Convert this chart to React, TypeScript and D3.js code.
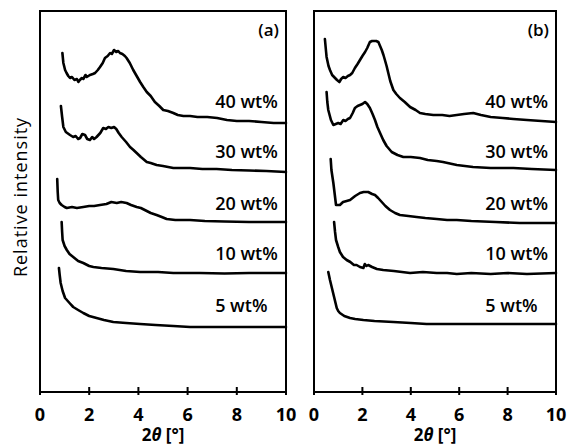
import React from "react";
import * as d3 from "d3";

// x: 2θ [°], y: relative intensity (arbitrary units, curves stacked)
const xTicks = [0, 2, 4, 6, 8, 10];
const seriesLabels = ["40 wt%", "30 wt%", "20 wt%", "10 wt%", "5 wt%"];
const panelNames = ["(a)", "(b)"];

// Panel (a)
const a40x = [0.91, 0.95, 1.02, 1.08, 1.15, 1.22, 1.3, 1.4, 1.5, 1.56, 1.62, 1.7, 1.76, 1.85, 1.9, 2.03, 2.15, 2.24, 2.35, 2.44, 2.55, 2.64, 2.75, 2.85, 2.92, 3.01, 3.1, 3.18, 3.25, 3.35, 3.45, 3.52, 3.65, 3.79, 3.93, 4.07, 4.2, 4.34, 4.5, 4.67, 4.85, 5.01, 5.2, 5.42, 5.6, 5.83, 6.1, 6.4, 6.8, 7.2, 7.6, 8.0, 8.5, 9.0, 9.5, 10];
const a40y = [339, 329, 322, 319, 316, 314, 315, 312, 313, 310, 312, 314, 313, 317, 315, 317, 318, 319, 322, 325, 329, 334, 336, 339, 338, 342, 340, 341, 339, 338, 336, 334, 329, 322, 316, 310, 305, 300, 296, 290, 286, 282, 281, 279, 277, 276, 276, 275, 275, 274, 272, 271, 271, 270, 269, 269];

const a30x = [0.85, 0.9, 0.95, 1.05, 1.22, 1.35, 1.45, 1.55, 1.63, 1.72, 1.83, 1.92, 2.03, 2.12, 2.2, 2.3, 2.45, 2.57, 2.68, 2.78, 2.9, 3.01, 3.1, 3.2, 3.32, 3.5, 3.66, 3.8, 3.93, 4.1, 4.34, 4.5, 4.74, 5.0, 5.42, 5.8, 6.1, 6.6, 7.18, 7.8, 8.5, 9.2, 10];
const a30y = [286, 275, 265, 260, 257, 255, 256, 253, 254, 258, 257, 253, 252, 255, 253, 255, 259, 264, 263, 265, 264, 265, 263, 259, 255, 250, 245, 242, 239, 235, 230, 229, 227, 226, 224, 224, 224, 223, 223, 222, 221.5, 221, 220];

const a20x = [0.7, 0.72, 0.74, 0.8, 0.88, 1.0, 1.09, 1.3, 1.5, 1.76, 2.0, 2.2, 2.44, 2.7, 2.9, 3.12, 3.3, 3.52, 3.7, 3.93, 4.1, 4.34, 4.5, 4.74, 4.95, 5.15, 5.5, 6.1, 6.7, 7.5, 8.5, 10];
const a20y = [213, 200, 192, 189, 187, 185, 184, 185, 184, 185, 186, 186, 187, 188, 190, 189, 190, 189, 187, 185, 184, 181, 179, 177, 175, 173, 172, 172, 171, 170.5, 170, 170];

const a10x = [0.88, 0.9, 0.92, 1.0, 1.09, 1.2, 1.35, 1.55, 1.76, 2.0, 2.17, 2.5, 2.98, 3.5, 4.07, 4.8, 5.42, 6.5, 7.5, 8.5, 10];
const a10y = [170, 160, 152, 146, 142, 138, 135, 131, 129, 126, 125, 124, 123, 121, 120, 120, 119, 119, 118.5, 119, 119];

const a5x = [0.77, 0.8, 0.84, 0.92, 1.02, 1.2, 1.35, 1.55, 1.76, 2.0, 2.3, 2.6, 2.98, 3.5, 4.07, 4.7, 5.42, 6.1, 7, 8, 10];
const a5y = [124, 117, 109, 101, 94, 89, 85, 82, 79, 76, 74, 72, 70, 69, 68, 67, 66, 65, 65, 65, 65];

// Panel (b)
const b40x = [0.45, 0.5, 0.52, 0.6, 0.66, 0.75, 0.87, 0.95, 1.05, 1.12, 1.21, 1.3, 1.4, 1.49, 1.58, 1.69, 1.8, 1.9, 2.0, 2.11, 2.2, 2.31, 2.4, 2.48, 2.57, 2.66, 2.73, 2.8, 2.87, 2.93, 3.0, 3.07, 3.15, 3.28, 3.4, 3.55, 3.75, 3.97, 4.2, 4.38, 4.6, 4.93, 5.3, 5.6, 5.9, 6.2, 6.58, 6.9, 7.3, 7.8, 8.24, 8.8, 9.4, 10];
const b40y = [353, 340, 335, 326, 322, 317, 314, 312, 310, 313, 315, 314, 316, 317, 319, 324, 328, 332, 336, 340, 344, 350, 351, 351, 351, 350, 346, 342, 337, 332, 326, 319, 311, 302, 298, 294, 290, 285, 282, 279, 278, 277, 277, 276, 277, 278, 279, 277, 275, 274, 273, 272, 271, 270];

const b30x = [0.52, 0.55, 0.59, 0.7, 0.8, 0.9, 1.0, 1.1, 1.21, 1.3, 1.4, 1.49, 1.6, 1.69, 1.8, 1.9, 2.0, 2.11, 2.2, 2.31, 2.42, 2.52, 2.62, 2.73, 2.86, 3.0, 3.21, 3.45, 3.69, 4.0, 4.38, 4.7, 5.07, 5.33, 5.9, 6.57, 7.3, 8.24, 9, 10];
const b30y = [300, 290, 282, 272, 267, 268, 269, 268, 272, 271, 273, 274, 279, 284, 286, 287, 288, 290, 288, 284, 278, 272, 265, 259, 252, 246, 240, 237, 235, 235, 234, 232, 231, 230, 227, 225, 224, 224, 223, 222];

const b20x = [0.69, 0.72, 0.8, 0.86, 0.91, 1.0, 1.07, 1.2, 1.35, 1.49, 1.7, 1.9, 2.05, 2.24, 2.4, 2.52, 2.65, 2.8, 2.95, 3.14, 3.35, 3.55, 3.9, 4.24, 4.6, 5.07, 5.5, 5.9, 6.5, 7.5, 8.5, 10];
const b20y = [233, 222, 209, 197, 187, 187, 187, 190, 191, 192, 196, 199, 200, 200, 198, 197, 194, 190, 186, 182, 179, 177, 176, 175, 174, 173, 172, 172, 171, 170, 169, 169];

const b10x = [0.83, 0.87, 0.91, 1.0, 1.07, 1.2, 1.35, 1.5, 1.65, 1.76, 1.9, 2.04, 2.1, 2.17, 2.24, 2.4, 2.6, 2.86, 3.3, 3.97, 4.5, 5.07, 5.5, 5.9, 6.5, 7.3, 8, 8.8, 10];
const b10y = [170, 160, 152, 145, 140, 135, 132, 130, 127, 127, 125, 124, 128, 126, 127, 125, 123, 122, 121, 119, 120, 119, 119, 118, 119, 118, 119, 118, 119];

const b5x = [0.59, 0.66, 0.73, 0.83, 0.94, 1.0, 1.07, 1.25, 1.49, 1.7, 2.04, 2.5, 3.28, 4.0, 4.65, 5.3, 5.9, 7, 8, 10];
const b5y = [120, 112, 105, 95, 84, 81, 79, 76, 74, 73, 72, 71, 70, 69, 68, 68, 68, 68, 68, 68];

const labelY = [284, 234, 182, 132, 80]; // label baselines in intensity units

const panels = [
  { name: panelNames[0], left: 40, right: 286, labelX: 7.12, xs: [a40x, a30x, a20x, a10x, a5x], ys: [a40y, a30y, a20y, a10y, a5y] },
  { name: panelNames[1], left: 314, right: 556, labelX: 7.08, xs: [b40x, b30x, b20x, b10x, b5x], ys: [b40y, b30y, b20y, b10y, b5y] },
];

const TOP = 11;
const BOTTOM = 392;
const FONT = "'Open Sans', 'DejaVu Sans', sans-serif";

export default function App() {
  const y = d3.scaleLinear().domain([0, 381]).range([BOTTOM, TOP]);
  const line = d3.line<[number, number]>();
  return (
    <svg width={568} height={447} style={{ position: "absolute", left: 0, top: 0, background: "#fff" }} fontFamily={FONT}>
      <rect x={0} y={0} width={568} height={447} fill="#fff" />
      <text transform={`translate(27,197) rotate(-90)`} textAnchor="middle" fontSize={18} fontWeight={500} letterSpacing={1} fill="#000">
        Relative intensity
      </text>
      {panels.map((p, pi) => {
        const x = d3.scaleLinear().domain([0, 10]).range([p.left, p.right]);
        return (
          <g key={pi}>
            {p.xs.map((xs, si) => {
              const pts = xs.map((v, i) => [x(v), y(p.ys[si][i])] as [number, number]);
              return (
                <path key={si} d={line(pts) || ""} fill="none" stroke="#000" strokeWidth={2.6} strokeLinejoin="round" strokeLinecap="round" />
              );
            })}
            {seriesLabels.map((s, si) => (
              <text key={si} x={x(p.labelX)} y={y(labelY[si])} fontSize={18} fontWeight={600} fill="#000">
                {s}
              </text>
            ))}
            <text x={x(10) - 7} y={36} textAnchor="end" fontSize={17} fontWeight={600} fill="#000">
              {p.name}
            </text>
            <rect x={x(0)} y={TOP} width={x(10) - x(0)} height={BOTTOM - TOP} fill="none" stroke="#000" strokeWidth={2} />
            {xTicks.map((t) => (
              <g key={t}>
                <line x1={x(t)} x2={x(t)} y1={BOTTOM - 5} y2={BOTTOM + 3} stroke="#000" strokeWidth={2} />
                <text x={x(t)} y={421} textAnchor="middle" fontSize={18} fontWeight={700} fill="#000">
                  {t}
                </text>
              </g>
            ))}
            <text x={(x(0) + x(10)) / 2} y={441} textAnchor="middle" fontSize={17} fontWeight={700} fill="#000">
              2<tspan fontStyle="italic">θ</tspan> [°]
            </text>
          </g>
        );
      })}
    </svg>
  );
}
